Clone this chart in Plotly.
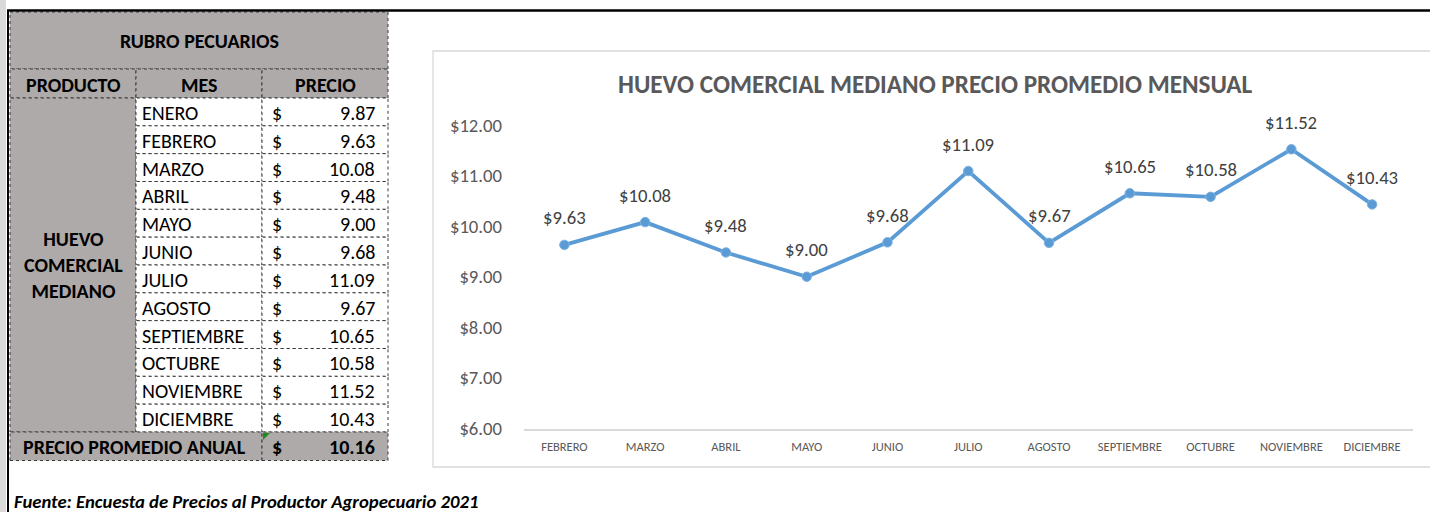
import plotly.graph_objects as go

# ---------------- data ----------------
section_title = "RUBRO PECUARIOS"
col_headers = ["PRODUCTO", "MES", "PRECIO"]
product_name = "HUEVO<br>COMERCIAL<br>MEDIANO"
months = ["ENERO", "FEBRERO", "MARZO", "ABRIL", "MAYO", "JUNIO", "JULIO",
          "AGOSTO", "SEPTIEMBRE", "OCTUBRE", "NOVIEMBRE", "DICIEMBRE"]
prices = [9.87, 9.63, 10.08, 9.48, 9.00, 9.68, 11.09, 9.67, 10.65, 10.58, 11.52, 10.43]
annual_label = "PRECIO PROMEDIO ANUAL"
annual_price = 10.16
chart_months = months[1:]
chart_prices = prices[1:]
chart_title = "HUEVO COMERCIAL MEDIANO PRECIO PROMEDIO MENSUAL"
source_note = "Fuente: Encuesta de Precios al Productor Agropecuario 2021"

# ---------------- layout helpers ----------------
W, H = 1430, 512
FONT = "Carlito, 'Liberation Sans Narrow', 'Arial Narrow', 'DejaVu Sans Condensed', sans-serif"
GRAY = "#AEAAAA"
BLUE = "#5B9BD5"


def fx(x):
    return x / W


def fy(y):
    return 1 - y / H


shapes = []
annotations = []


def rect(x0, y0, x1, y1, fill=None, color="#3a3a3a", width=1, dash="dot"):
    shapes.append(dict(type="rect", xref="paper", yref="paper",
                       x0=fx(x0), x1=fx(x1), y0=fy(y1), y1=fy(y0),
                       fillcolor=fill if fill else "rgba(0,0,0,0)",
                       line=dict(color=color, width=width, dash=dash),
                       layer="below"))


def text(x, y, s, size=20, bold=False, italic=False, color="black",
         xanchor="center", yanchor="middle"):
    if bold:
        s = f"<b>{s}</b>"
    if italic:
        s = f"<i>{s}</i>"
    annotations.append(dict(xref="paper", yref="paper", x=fx(x), y=fy(y), text=s,
                            showarrow=False, xanchor=xanchor, yanchor=yanchor,
                            font=dict(family=FONT, size=size, color=color)))


# left gray strip and sheet borders
shapes.append(dict(type="rect", xref="paper", yref="paper", x0=0, x1=fx(6),
                   y0=0, y1=1, fillcolor="#D9D9D9", line=dict(width=0), layer="below"))
shapes.append(dict(type="line", xref="paper", yref="paper", x0=fx(8), x1=fx(8),
                   y0=0, y1=fy(10), line=dict(color="black", width=2)))
shapes.append(dict(type="line", xref="paper", yref="paper", x0=fx(7), x1=1,
                   y0=fy(10.5), y1=fy(10.5), line=dict(color="black", width=2.5)))

# ---------------- table ----------------
X0, X1, X2, X3 = 10, 136, 262, 388
Y_TOP, Y_H1, Y_H2 = 12, 69, 98
ROW_H = (432 - Y_H2) / len(months)
Y_TOT0 = Y_H2 + ROW_H * len(months)
Y_TOT1 = Y_TOT0 + 28.5

rect(X0, Y_TOP, X3, Y_H1, fill=GRAY)
text((X0 + X3) / 2, (Y_TOP + Y_H1) / 2, section_title, bold=True)
for (a, b), h in zip([(X0, X1), (X1, X2), (X2, X3)], col_headers):
    rect(a, Y_H1, b, Y_H2, fill=GRAY)
    text((a + b) / 2, (Y_H1 + Y_H2) / 2 + 1, h, bold=True)

rect(X0, Y_H2, X1, Y_TOT0, fill=GRAY)
text((X0 + X1) / 2, (Y_H2 + Y_TOT0) / 2, product_name, bold=True)

for i, (m, p) in enumerate(zip(months, prices)):
    t = Y_H2 + i * ROW_H
    rect(X1, t, X2, t + ROW_H, fill="white")
    rect(X2, t, X3, t + ROW_H, fill="white")
    cy = t + ROW_H / 2 + 1
    text(X1 + 4, cy, m, xanchor="left")
    text(X2 + 8, cy, "$", xanchor="left")
    text(X3 - 11, cy, f"{p:.2f}", xanchor="right")

rect(X0, Y_TOT0, X2, Y_TOT1, fill=GRAY)
rect(X2, Y_TOT0, X3, Y_TOT1, fill=GRAY)
cy = (Y_TOT0 + Y_TOT1) / 2 + 1
text(134, cy, annual_label, bold=True)
text(X2 + 8, cy, "$", bold=True, xanchor="left")
text(X3 - 11, cy, f"{annual_price:.2f}", bold=True, xanchor="right")
# green error-indicator triangle
shapes.append(dict(type="path", xref="paper", yref="paper",
                   path=f"M {fx(263)} {fy(433)} L {fx(270)} {fy(433)} L {fx(263)} {fy(440)} Z",
                   fillcolor="#1E8C1E", line=dict(width=0)))

# source note
text(12, 501, source_note, size=18.7, bold=True, italic=True, xanchor="left")

# ---------------- chart ----------------
shapes.append(dict(type="rect", xref="paper", yref="paper",
                   x0=fx(433), x1=fx(1445), y0=fy(467), y1=fy(51),
                   fillcolor="white", line=dict(color="#D9D9D9", width=1.3),
                   layer="below"))
text(935, 84, chart_title, size=25.2, bold=True, color="#595959")

fig = go.Figure()
fig.add_trace(go.Scatter(
    x=chart_months, y=chart_prices, mode="lines+markers",
    line=dict(color=BLUE, width=3.8),
    marker=dict(color=BLUE, size=9.5, line=dict(color="#7FB2E0", width=1)),
    hoverinfo="skip", showlegend=False,
))

for m, p in zip(chart_months, chart_prices):
    annotations.append(dict(x=m, y=p, xref="x", yref="y", text=f"${p:.2f}",
                            showarrow=False, yshift=27,
                            font=dict(family=FONT, size=18.7, color="#404040")))

fig.update_layout(
    width=W, height=H, autosize=False,
    margin=dict(l=0, r=0, t=0, b=0, autoexpand=False),
    paper_bgcolor="white", plot_bgcolor="rgba(0,0,0,0)",
    shapes=shapes, annotations=annotations,
    xaxis=dict(domain=[fx(524), fx(1412.5)], type="category", range=[-0.5, 10.5],
               showgrid=False, zeroline=False, showline=True, automargin=False,
               linecolor="#D9D9D9", linewidth=1.5, ticks="",
               ticklabelstandoff=6,
               tickfont=dict(family=FONT, size=12.5, color="#595959")),
    yaxis=dict(domain=[fy(428.5), fy(125)], range=[6, 12], dtick=1,
               tickformat="$.2f", showgrid=False, zeroline=False, showline=False,
               automargin=False, ticks="", ticklabelstandoff=21,
               tickfont=dict(family=FONT, size=18.7, color="#595959")),
)

fig.write_html("out.html", config={"displayModeBar": False},
               post_script="document.body.style.margin='0';document.body.style.overflow='hidden';")
